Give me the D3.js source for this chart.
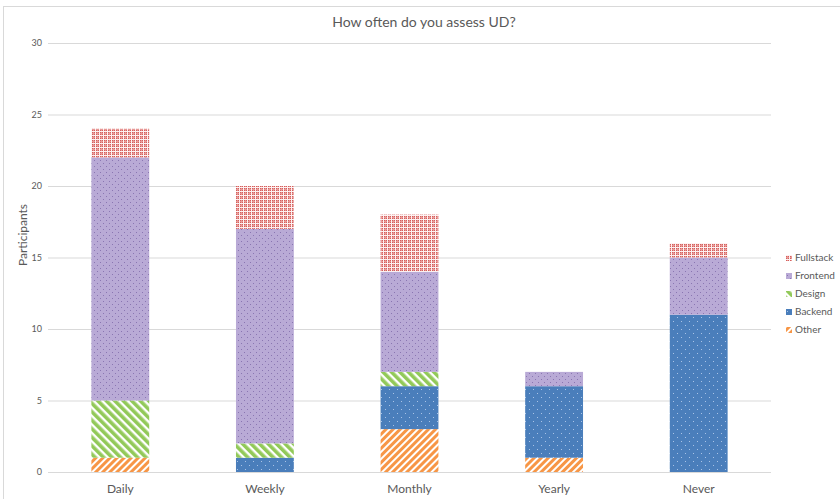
<!DOCTYPE html>
<html><head><meta charset="utf-8">
<script src="https://cdn.jsdelivr.net/npm/d3@7"></script>
<style>
html,body{margin:0;padding:0;background:#fff;}
svg{display:block;font-family:Lato,"Open Sans",sans-serif;}
</style></head>
<body>
<svg id="chart" width="840" height="499"></svg>
<script>
const categories = ["Daily","Weekly","Monthly","Yearly","Never"];
const seriesNames = ["Other","Backend","Design","Frontend","Fullstack"];
const other     = [1,0,3,1,0];
const backend   = [0,1,3,5,11];
const design    = [4,1,1,0,0];
const frontend  = [17,15,7,1,4];
const fullstack = [2,3,4,0,1];
const yTicks = [0,5,10,15,20,25,30];
const legendOrder = ["Fullstack","Frontend","Design","Backend","Other"];

(function(){
const valuesBySeries = {Other:other, Backend:backend, Design:design, Frontend:frontend, Fullstack:fullstack};
const rows = categories.map((c,i)=>{const r={cat:c}; seriesNames.forEach(s=>r[s]=valuesBySeries[s][i]); return r;});

const svg = d3.select("#chart");
const W=840,H=499;
const mLeft=48, mRight=771, mTop=43, mBottom=472;

svg.append("rect").attr("x",3.5).attr("y",6.5).attr("width",W+10).attr("height",H+10)
  .attr("fill","none").attr("stroke","#d9d9d9").attr("stroke-width",1);

const defs = svg.append("defs");
// Fullstack plaid: red with white grid lines
let p = defs.append("pattern").attr("id","p-Fullstack").attr("patternUnits","userSpaceOnUse").attr("width",4).attr("height",4);
p.append("rect").attr("width",4).attr("height",4).attr("fill","#d45f5c");
p.append("rect").attr("x",0).attr("y",1).attr("width",4).attr("height",1).attr("fill","#e89896");
p.append("rect").attr("x",1).attr("y",0).attr("width",1).attr("height",4).attr("fill","#e89896");
p.append("rect").attr("x",3).attr("y",0).attr("width",1).attr("height",4).attr("fill","#fdf0f0");
p.append("rect").attr("x",0).attr("y",3).attr("width",4).attr("height",1).attr("fill","#fdf0f0");
// Frontend dots
p = defs.append("pattern").attr("id","p-Frontend").attr("patternUnits","userSpaceOnUse").attr("width",6).attr("height",6);
p.append("rect").attr("width",6).attr("height",6).attr("fill","#b9aad6");
p.append("rect").attr("x",1).attr("y",1).attr("width",1).attr("height",1).attr("fill","#8a76b2");
p.append("rect").attr("x",4).attr("y",4).attr("width",1).attr("height",1).attr("fill","#8a76b2");
// Design stripes "\"
p = defs.append("pattern").attr("id","p-Design").attr("patternUnits","userSpaceOnUse").attr("width",6).attr("height",6).attr("patternTransform","rotate(-45)");
p.append("rect").attr("width",6).attr("height",6).attr("fill","#ffffff");
p.append("rect").attr("width",3.6).attr("height",6).attr("fill","#92c959");
// Backend dots
p = defs.append("pattern").attr("id","p-Backend").attr("patternUnits","userSpaceOnUse").attr("width",8).attr("height",8);
p.append("rect").attr("width",8).attr("height",8).attr("fill","#4a7ebb");
p.append("rect").attr("x",1).attr("y",1).attr("width",1).attr("height",1).attr("fill","#a9c3e6");
p.append("rect").attr("x",5).attr("y",5).attr("width",1).attr("height",1).attr("fill","#a9c3e6");
// Other stripes "/"
p = defs.append("pattern").attr("id","p-Other").attr("patternUnits","userSpaceOnUse").attr("width",5).attr("height",5).attr("patternTransform","rotate(45)");
p.append("rect").attr("width",5).attr("height",5).attr("fill","#ffffff");
p.append("rect").attr("width",3).attr("height",5).attr("fill","#f79646");

const x = d3.scaleBand().domain(categories).range([mLeft,mRight]).paddingInner(0.6).paddingOuter(0.3);
const y = d3.scaleLinear().domain([0,30]).range([mBottom,mTop]);

svg.append("g").selectAll("line").data(yTicks).join("line")
  .attr("x1",mLeft).attr("x2",mRight).attr("y1",d=>y(d)+0.5).attr("y2",d=>y(d)+0.5)
  .attr("stroke","#d9d9d9").attr("stroke-width",1);

const yAxis = d3.axisLeft(y).tickValues(yTicks).tickSize(0).tickPadding(6);
const yg = svg.append("g").attr("transform",`translate(${mLeft},0)`).call(yAxis);
yg.select(".domain").remove();
yg.selectAll("text").attr("fill","#595959").attr("font-size",9).attr("font-family","Lato,sans-serif");

const stack = d3.stack().keys(seriesNames)(rows);
svg.append("g").selectAll("g").data(stack).join("g")
  .attr("fill",d=>`url(#p-${d.key})`)
  .selectAll("rect").data(d=>d).join("rect")
  .attr("x",d=>x(d.data.cat)).attr("width",x.bandwidth())
  .attr("y",d=>y(d[1])).attr("height",d=>y(d[0])-y(d[1]));

const xAxis = d3.axisBottom(x).tickSize(0).tickPadding(12);
const xg = svg.append("g").attr("transform",`translate(0,${mBottom})`).call(xAxis);
xg.select(".domain").remove();
xg.selectAll("text").attr("fill","#595959").attr("font-size",12).attr("font-family","Lato,sans-serif");

svg.append("text").attr("x",424).attr("y",27).attr("text-anchor","middle")
  .attr("fill","#595959").attr("font-size",14).text("How often do you assess UD?");
svg.append("text").attr("transform","translate(27,235) rotate(-90)").attr("text-anchor","middle")
  .attr("fill","#595959").attr("font-size",12).text("Participants");

const lg = svg.append("g").selectAll("g").data(legendOrder).join("g")
  .attr("transform",(d,i)=>`translate(786,${256+i*18})`);
lg.append("rect").attr("width",6).attr("height",6).attr("y",-1).attr("fill",d=>`url(#p-${d})`);
lg.append("text").attr("x",9).attr("y",5).attr("fill","#595959").attr("font-size",10).text(d=>d);
})();
</script>
</body></html>
